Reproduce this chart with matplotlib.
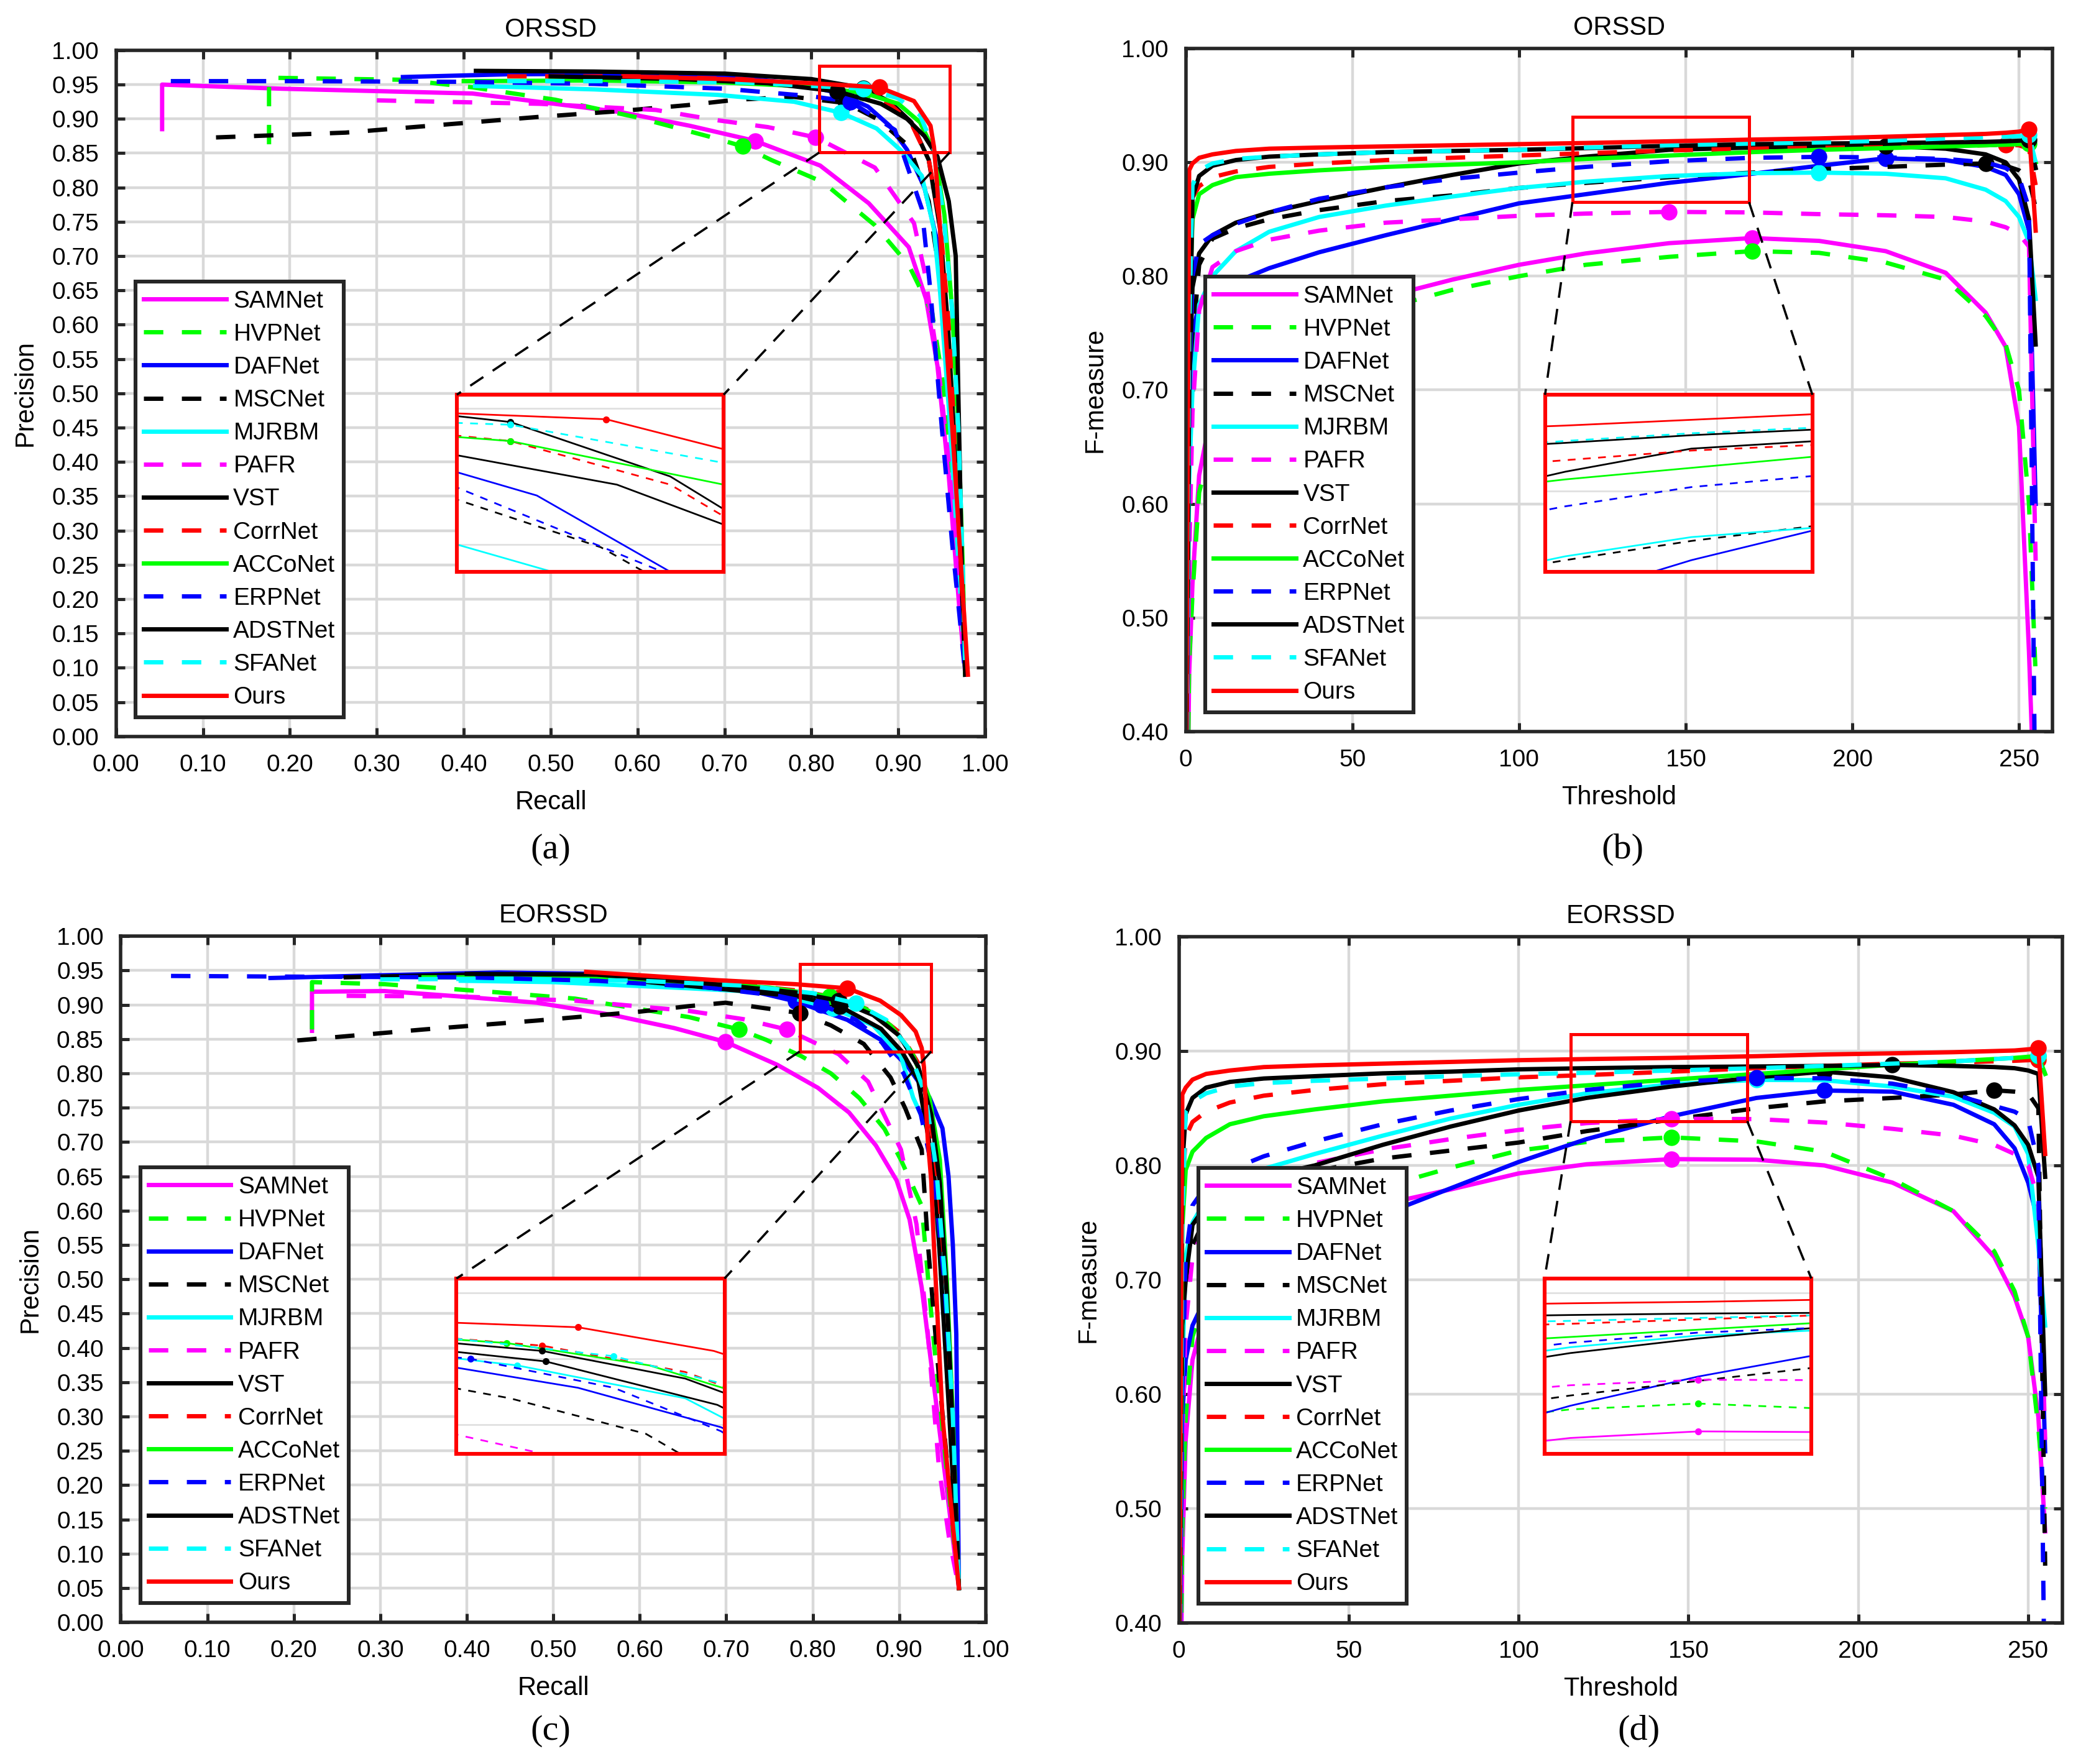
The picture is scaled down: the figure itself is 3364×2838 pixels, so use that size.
import matplotlib

matplotlib.use("Agg")
import matplotlib.pyplot as plt
import numpy as np
from matplotlib.patches import Rectangle

plt.rcParams["font.family"] = ["Liberation Sans", "DejaVu Sans"]

METHODS = ["SAMNet", "HVPNet", "DAFNet", "MSCNet", "MJRBM", "PAFR", "VST",
           "CorrNet", "ACCoNet", "ERPNet", "ADSTNet", "SFANet", "Ours"]
COLORS = {
    "SAMNet": "#ff00ff", "HVPNet": "#00ff00", "DAFNet": "#0000ff", "MSCNet": "#000000",
    "MJRBM": "#00ffff", "PAFR": "#ff00ff", "VST": "#000000", "CorrNet": "#ff0000",
    "ACCoNet": "#00ff00", "ERPNet": "#0000ff", "ADSTNet": "#000000", "SFANet": "#00ffff",
    "Ours": "#ff0000",
}
DASHED = {"HVPNet", "MSCNet", "PAFR", "CorrNet", "ERPNet", "SFANet"}

# ---- ORSSD precision / recall ----
orssd_recall = {
    "SAMNet": [0.053, 0.053, 0.19, 0.41, 0.58, 0.66, 0.735, 0.81, 0.866, 0.912, 0.932, 0.945, 0.958, 0.970, 0.977],
    "HVPNet": [0.176, 0.176, 0.33, 0.41, 0.505, 0.60, 0.683, 0.721, 0.754, 0.813, 0.873, 0.912, 0.939, 0.952, 0.965, 0.972, 0.977],
    "DAFNet": [0.33, 0.45, 0.60, 0.70, 0.78, 0.83, 0.865, 0.89, 0.91, 0.93, 0.945, 0.955, 0.963, 0.970, 0.977],
    "MSCNet": [0.115, 0.264, 0.40, 0.487, 0.576, 0.657, 0.714, 0.78, 0.84, 0.877, 0.913, 0.935, 0.95, 0.962, 0.970, 0.977],
    "MJRBM": [0.413, 0.55, 0.692, 0.78, 0.834, 0.875, 0.903, 0.927, 0.941, 0.948, 0.958, 0.967, 0.977],
    "PAFR": [0.30, 0.487, 0.621, 0.692, 0.75, 0.805, 0.873, 0.918, 0.930, 0.945, 0.958, 0.970, 0.977],
    "VST": [0.414, 0.55, 0.70, 0.80, 0.86, 0.89, 0.915, 0.935, 0.948, 0.957, 0.965, 0.972, 0.977],
    "CorrNet": [0.45, 0.60, 0.72, 0.80, 0.86, 0.89, 0.915, 0.935, 0.948, 0.958, 0.966, 0.972, 0.977],
    "ACCoNet": [0.40, 0.55, 0.70, 0.80, 0.86, 0.90, 0.925, 0.942, 0.953, 0.962, 0.969, 0.974, 0.977],
    "ERPNet": [0.063, 0.20, 0.40, 0.55, 0.70, 0.80, 0.845, 0.896, 0.927, 0.937, 0.950, 0.962, 0.970, 0.977],
    "ADSTNet": [0.50, 0.65, 0.75, 0.83, 0.88, 0.91, 0.93, 0.945, 0.958, 0.966, 0.969, 0.973, 0.977],
    "SFANet": [0.45, 0.60, 0.72, 0.80, 0.86, 0.90, 0.925, 0.94, 0.952, 0.962, 0.969, 0.974, 0.977],
    "Ours": [0.585, 0.70, 0.80, 0.878, 0.918, 0.937, 0.941, 0.944, 0.948, 0.952, 0.962, 0.972, 0.980],
}
orssd_precision = {
    "SAMNet": [0.885, 0.950, 0.944, 0.937, 0.910, 0.890, 0.868, 0.832, 0.777, 0.713, 0.637, 0.540, 0.380, 0.190, 0.090],
    "HVPNet": [0.863, 0.960, 0.957, 0.946, 0.928, 0.902, 0.874, 0.860, 0.840, 0.808, 0.745, 0.687, 0.617, 0.510, 0.350, 0.190, 0.090],
    "DAFNet": [0.961, 0.965, 0.966, 0.962, 0.952, 0.938, 0.918, 0.890, 0.855, 0.800, 0.720, 0.600, 0.450, 0.280, 0.090],
    "MSCNet": [0.873, 0.880, 0.894, 0.903, 0.911, 0.920, 0.928, 0.932, 0.923, 0.899, 0.859, 0.780, 0.650, 0.470, 0.280, 0.090],
    "MJRBM": [0.948, 0.943, 0.935, 0.925, 0.909, 0.886, 0.854, 0.817, 0.739, 0.648, 0.480, 0.300, 0.090],
    "PAFR": [0.927, 0.922, 0.913, 0.898, 0.888, 0.873, 0.829, 0.748, 0.678, 0.550, 0.400, 0.220, 0.090],
    "VST": [0.970, 0.969, 0.966, 0.958, 0.945, 0.925, 0.895, 0.840, 0.740, 0.600, 0.420, 0.250, 0.090],
    "CorrNet": [0.962, 0.962, 0.958, 0.950, 0.938, 0.922, 0.893, 0.840, 0.750, 0.600, 0.420, 0.250, 0.090],
    "ACCoNet": [0.955, 0.956, 0.953, 0.947, 0.938, 0.922, 0.895, 0.850, 0.760, 0.620, 0.450, 0.250, 0.090],
    "ERPNet": [0.955, 0.955, 0.954, 0.951, 0.944, 0.933, 0.925, 0.884, 0.769, 0.648, 0.450, 0.280, 0.180, 0.090],
    "ADSTNet": [0.962, 0.958, 0.952, 0.940, 0.922, 0.900, 0.875, 0.845, 0.780, 0.700, 0.500, 0.250, 0.090],
    "SFANet": [0.955, 0.955, 0.953, 0.948, 0.944, 0.930, 0.905, 0.860, 0.760, 0.620, 0.450, 0.250, 0.090],
    "Ours": [0.962, 0.958, 0.952, 0.946, 0.926, 0.890, 0.859, 0.814, 0.739, 0.632, 0.450, 0.250, 0.090],
}

# ---- EORSSD precision / recall ----
eorssd_recall = {
    "SAMNet": [0.221, 0.221, 0.305, 0.393, 0.481, 0.569, 0.640, 0.699, 0.759, 0.806, 0.842, 0.873, 0.897, 0.912, 0.926, 0.939, 0.952, 0.969],
    "HVPNet": [0.221, 0.221, 0.305, 0.437, 0.525, 0.657, 0.715, 0.746, 0.787, 0.821, 0.854, 0.883, 0.902, 0.926, 0.939, 0.955, 0.969],
    "DAFNet": [0.173, 0.30, 0.437, 0.55, 0.68, 0.78, 0.84, 0.88, 0.91, 0.935, 0.950, 0.957, 0.962, 0.966, 0.969],
    "MSCNet": [0.204, 0.35, 0.481, 0.60, 0.657, 0.699, 0.785, 0.821, 0.859, 0.89, 0.907, 0.926, 0.933, 0.946, 0.958, 0.969],
    "MJRBM": [0.393, 0.50, 0.657, 0.75, 0.823, 0.87, 0.902, 0.916, 0.933, 0.946, 0.957, 0.965, 0.969],
    "PAFR": [0.261, 0.393, 0.525, 0.657, 0.72, 0.770, 0.830, 0.864, 0.902, 0.920, 0.933, 0.946, 0.958, 0.969],
    "VST": [0.26, 0.40, 0.525, 0.687, 0.783, 0.831, 0.879, 0.903, 0.922, 0.934, 0.941, 0.946, 0.958, 0.969],
    "CorrNet": [0.45, 0.60, 0.70, 0.78, 0.83, 0.87, 0.90, 0.922, 0.935, 0.945, 0.955, 0.962, 0.969],
    "ACCoNet": [0.35, 0.50, 0.65, 0.75, 0.82, 0.86, 0.89, 0.915, 0.935, 0.947, 0.955, 0.962, 0.969],
    "ERPNet": [0.058, 0.20, 0.40, 0.55, 0.68, 0.76, 0.81, 0.85, 0.88, 0.905, 0.925, 0.94, 0.952, 0.962, 0.969],
    "ADSTNet": [0.40, 0.55, 0.687, 0.78, 0.83, 0.87, 0.90, 0.922, 0.937, 0.947, 0.955, 0.962, 0.969],
    "SFANet": [0.30, 0.45, 0.60, 0.72, 0.80, 0.85, 0.885, 0.91, 0.93, 0.943, 0.953, 0.962, 0.969],
    "Ours": [0.538, 0.687, 0.78, 0.840, 0.878, 0.902, 0.919, 0.926, 0.9286, 0.933, 0.937, 0.940, 0.950, 0.969],
}
eorssd_precision = {
    "SAMNet": [0.862, 0.919, 0.920, 0.912, 0.903, 0.885, 0.866, 0.846, 0.8125, 0.779, 0.743, 0.695, 0.644, 0.587, 0.488, 0.357, 0.225, 0.050],
    "HVPNet": [0.864, 0.933, 0.930, 0.918, 0.909, 0.882, 0.864, 0.849, 0.825, 0.800, 0.764, 0.719, 0.674, 0.607, 0.422, 0.220, 0.050],
    "DAFNet": [0.939, 0.943, 0.947, 0.945, 0.935, 0.905, 0.878, 0.848, 0.810, 0.765, 0.720, 0.650, 0.550, 0.420, 0.050],
    "MSCNet": [0.848, 0.864, 0.877, 0.890, 0.898, 0.903, 0.888, 0.870, 0.843, 0.794, 0.749, 0.689, 0.554, 0.357, 0.200, 0.050],
    "MJRBM": [0.935, 0.933, 0.924, 0.918, 0.895, 0.870, 0.825, 0.765, 0.718, 0.554, 0.350, 0.180, 0.050],
    "PAFR": [0.913, 0.912, 0.906, 0.891, 0.879, 0.864, 0.828, 0.788, 0.689, 0.580, 0.422, 0.225, 0.120, 0.050],
    "VST": [0.940, 0.944, 0.943, 0.924, 0.912, 0.898, 0.865, 0.832, 0.790, 0.705, 0.644, 0.554, 0.300, 0.050],
    "CorrNet": [0.945, 0.940, 0.932, 0.921, 0.910, 0.890, 0.860, 0.815, 0.745, 0.640, 0.480, 0.280, 0.050],
    "ACCoNet": [0.940, 0.940, 0.933, 0.925, 0.912, 0.895, 0.870, 0.830, 0.764, 0.674, 0.500, 0.300, 0.050],
    "ERPNet": [0.942, 0.941, 0.940, 0.935, 0.925, 0.913, 0.900, 0.878, 0.845, 0.800, 0.740, 0.650, 0.500, 0.300, 0.050],
    "ADSTNet": [0.945, 0.944, 0.930, 0.918, 0.906, 0.885, 0.855, 0.810, 0.740, 0.640, 0.480, 0.280, 0.050],
    "SFANet": [0.937, 0.938, 0.935, 0.928, 0.917, 0.902, 0.878, 0.838, 0.770, 0.660, 0.500, 0.300, 0.050],
    "Ours": [0.948, 0.936, 0.930, 0.924, 0.906, 0.885, 0.861, 0.837, 0.809, 0.704, 0.644, 0.554, 0.300, 0.050],
}

# ---- F-measure against threshold ----
thresholds = [0, 1, 2, 4, 8, 15, 25, 40, 60, 80, 100, 120, 145, 170, 190, 210, 228, 240, 246, 250, 253, 255]
orssd_fmeasure = {
    "SAMNet": [0.20, 0.45, 0.53, 0.625, 0.685, 0.72, 0.745, 0.765, 0.782, 0.797, 0.810, 0.820, 0.829, 0.8335, 0.831, 0.822, 0.803, 0.768, 0.738, 0.668, 0.47, 0.30],
    "HVPNet": [0.20, 0.46, 0.52, 0.61, 0.655, 0.69, 0.725, 0.752, 0.772, 0.788, 0.800, 0.810, 0.817, 0.822, 0.8205, 0.812, 0.797, 0.765, 0.74, 0.70, 0.60, 0.45],
    "DAFNet": [0.30, 0.68, 0.75, 0.775, 0.788, 0.795, 0.807, 0.821, 0.836, 0.850, 0.864, 0.872, 0.882, 0.890, 0.897, 0.9035, 0.902, 0.896, 0.889, 0.872, 0.84, 0.60],
    "MSCNet": [0.30, 0.62, 0.74, 0.81, 0.833, 0.842, 0.85, 0.858, 0.866, 0.871, 0.8775, 0.882, 0.887, 0.891, 0.894, 0.896, 0.898, 0.899, 0.897, 0.893, 0.885, 0.86],
    "MJRBM": [0.30, 0.62, 0.70, 0.775, 0.80, 0.822, 0.839, 0.852, 0.862, 0.870, 0.8775, 0.883, 0.888, 0.8905, 0.891, 0.890, 0.886, 0.876, 0.866, 0.852, 0.83, 0.78],
    "PAFR": [0.30, 0.55, 0.68, 0.77, 0.808, 0.822, 0.832, 0.840, 0.847, 0.850, 0.853, 0.855, 0.8565, 0.856, 0.8545, 0.8535, 0.852, 0.848, 0.843, 0.837, 0.826, 0.55],
    "VST": [0.30, 0.70, 0.79, 0.82, 0.836, 0.847, 0.856, 0.866, 0.878, 0.889, 0.899, 0.905, 0.911, 0.913, 0.914, 0.9145, 0.912, 0.907, 0.90, 0.885, 0.85, 0.74],
    "CorrNet": [0.30, 0.70, 0.869, 0.879, 0.887, 0.892, 0.896, 0.899, 0.902, 0.904, 0.906, 0.908, 0.9105, 0.912, 0.913, 0.914, 0.9145, 0.915, 0.9155, 0.915, 0.912, 0.88],
    "ACCoNet": [0.30, 0.76, 0.85, 0.872, 0.880, 0.887, 0.890, 0.893, 0.896, 0.898, 0.900, 0.903, 0.906, 0.909, 0.911, 0.9125, 0.914, 0.915, 0.9155, 0.916, 0.9165, 0.90],
    "ERPNet": [0.30, 0.68, 0.80, 0.828, 0.836, 0.846, 0.856, 0.868, 0.878, 0.8855, 0.891, 0.896, 0.901, 0.904, 0.9048, 0.9043, 0.903, 0.900, 0.895, 0.887, 0.86, 0.30],
    "ADSTNet": [0.30, 0.70, 0.869, 0.888, 0.897, 0.902, 0.905, 0.907, 0.909, 0.910, 0.911, 0.9125, 0.9145, 0.916, 0.9165, 0.917, 0.9175, 0.918, 0.9185, 0.919, 0.9195, 0.895],
    "SFANet": [0.30, 0.75, 0.88, 0.893, 0.899, 0.903, 0.905, 0.907, 0.909, 0.910, 0.911, 0.913, 0.915, 0.9165, 0.9175, 0.919, 0.921, 0.922, 0.9225, 0.923, 0.924, 0.90],
    "Ours": [0.30, 0.893, 0.899, 0.904, 0.907, 0.910, 0.912, 0.913, 0.914, 0.915, 0.916, 0.917, 0.9185, 0.920, 0.921, 0.9225, 0.924, 0.925, 0.926, 0.927, 0.929, 0.84],
}
eorssd_fmeasure = {
    "SAMNet": [0.20, 0.46, 0.56, 0.63, 0.675, 0.705, 0.728, 0.748, 0.766, 0.779, 0.793, 0.801, 0.8055, 0.805, 0.80, 0.785, 0.76, 0.72, 0.685, 0.65, 0.58, 0.48],
    "HVPNet": [0.20, 0.48, 0.58, 0.65, 0.69, 0.715, 0.735, 0.757, 0.781, 0.798, 0.813, 0.8205, 0.8245, 0.821, 0.812, 0.788, 0.76, 0.725, 0.69, 0.65, 0.57, 0.50],
    "DAFNet": [0.30, 0.58, 0.63, 0.66, 0.685, 0.70, 0.715, 0.733, 0.757, 0.78, 0.803, 0.823, 0.843, 0.859, 0.8655, 0.8645, 0.853, 0.836, 0.815, 0.785, 0.75, 0.55],
    "MSCNet": [0.30, 0.60, 0.68, 0.73, 0.755, 0.77, 0.783, 0.795, 0.806, 0.813, 0.820, 0.830, 0.840, 0.850, 0.856, 0.859, 0.862, 0.8657, 0.8645, 0.863, 0.85, 0.45],
    "MJRBM": [0.30, 0.62, 0.72, 0.75, 0.77, 0.785, 0.797, 0.81, 0.826, 0.841, 0.853, 0.863, 0.871, 0.8748, 0.8745, 0.869, 0.86, 0.846, 0.834, 0.81, 0.73, 0.66],
    "PAFR": [0.30, 0.56, 0.66, 0.72, 0.75, 0.77, 0.785, 0.802, 0.814, 0.823, 0.831, 0.837, 0.8408, 0.8405, 0.8375, 0.832, 0.826, 0.818, 0.81, 0.80, 0.77, 0.56],
    "VST": [0.30, 0.66, 0.70, 0.748, 0.765, 0.777, 0.79, 0.80, 0.818, 0.834, 0.848, 0.859, 0.869, 0.877, 0.882, 0.877, 0.864, 0.849, 0.835, 0.818, 0.79, 0.60],
    "CorrNet": [0.30, 0.78, 0.825, 0.838, 0.847, 0.855, 0.861, 0.866, 0.871, 0.874, 0.877, 0.879, 0.882, 0.885, 0.887, 0.889, 0.890, 0.891, 0.8915, 0.892, 0.8925, 0.88],
    "ACCoNet": [0.30, 0.746, 0.796, 0.812, 0.824, 0.836, 0.843, 0.849, 0.856, 0.861, 0.866, 0.870, 0.875, 0.880, 0.884, 0.888, 0.891, 0.893, 0.894, 0.895, 0.8955, 0.88],
    "ERPNet": [0.30, 0.60, 0.72, 0.765, 0.782, 0.796, 0.808, 0.821, 0.836, 0.848, 0.858, 0.866, 0.873, 0.8765, 0.8762, 0.8715, 0.862, 0.852, 0.847, 0.84, 0.80, 0.30],
    "ADSTNet": [0.30, 0.80, 0.845, 0.859, 0.868, 0.873, 0.876, 0.878, 0.8805, 0.882, 0.884, 0.885, 0.886, 0.8865, 0.887, 0.8878, 0.887, 0.886, 0.885, 0.883, 0.88, 0.79],
    "SFANet": [0.30, 0.75, 0.848, 0.856, 0.863, 0.869, 0.872, 0.874, 0.876, 0.878, 0.8797, 0.881, 0.883, 0.885, 0.887, 0.889, 0.891, 0.893, 0.894, 0.895, 0.896, 0.87],
    "Ours": [0.30, 0.862, 0.868, 0.875, 0.880, 0.883, 0.886, 0.8875, 0.889, 0.8905, 0.892, 0.893, 0.894, 0.8955, 0.897, 0.898, 0.899, 0.900, 0.9005, 0.9015, 0.9025, 0.81],
}

PR_TICKS_X = np.round(np.arange(0, 1.001, 0.1), 2)
PR_TICKS_Y = np.round(np.arange(0, 1.001, 0.05), 2)
F_TICKS_X = [0, 50, 100, 150, 200, 250]
F_TICKS_Y = np.round(np.arange(0.4, 1.001, 0.1), 2)
DASH = (4.5, 4.3)


def f_beta(r, p):
    return 1.3 * p * r / (0.3 * p + r)


def f_peak(t, f):
    return f


def _plot_curves(ax, xs, ys, score, lw, ms):
    handles = []
    for name in METHODS:
        x = np.asarray(xs[name], dtype=float)
        y = np.asarray(ys[name], dtype=float)
        ls = (0, DASH) if name in DASHED else "-"
        (line,) = ax.plot(x, y, color=COLORS[name], lw=lw, ls=ls, label=name, solid_joinstyle="round")
        k = int(np.argmax(score(x, y)))
        ax.plot(x[k], y[k], "o", color=COLORS[name], ms=ms, mec=COLORS[name])
        handles.append(line)
    return handles


def _style(ax, xlim, ylim, xticks, yticks, xfmt, yfmt):
    ax.set_xlim(xlim)
    ax.set_ylim(ylim)
    ax.set_xticks(xticks)
    ax.set_yticks(yticks)
    ax.set_xticklabels([xfmt.format(v) for v in xticks])
    ax.set_yticklabels([yfmt.format(v) for v in yticks])
    ax.grid(True, color="#d9d9d9", lw=1.6)
    ax.set_axisbelow(True)
    ax.tick_params(direction="in", length=5, width=1.8, top=True, right=True,
                   labelsize=14, pad=10, colors="#262626", labelcolor="black")
    for spine in ax.spines.values():
        spine.set_linewidth(2.0)
        spine.set_color("#262626")


def _add_zoom(ax, xs, ys, score, rect, box, window, xticks, yticks):
    x0, y0, x1, y1 = rect
    ax.add_patch(Rectangle((x0, y0), x1 - x0, y1 - y0, fill=False, ec="red", lw=1.8, zorder=6))
    ins = ax.inset_axes(box)
    _plot_curves(ins, xs, ys, score, lw=1.0, ms=3.0)
    ins.set_xticks(xticks)
    ins.set_yticks(yticks)
    ins.set_xlim(window[0])
    ins.set_ylim(window[1])
    ins.grid(True, color="#e0e0e0", lw=1.0)
    ins.set_axisbelow(True)
    ins.tick_params(length=0, labelbottom=False, labelleft=False)
    for spine in ins.spines.values():
        spine.set_color("red")
        spine.set_linewidth(2.2)
    (xl, xr), (yb, yt) = ax.get_xlim(), ax.get_ylim()
    bx0 = xl + box[0] * (xr - xl)
    bx1 = xl + (box[0] + box[2]) * (xr - xl)
    by1 = yb + (box[1] + box[3]) * (yt - yb)
    for cx, bx in ((x0, bx0), (x1, bx1)):
        ax.plot([cx, bx], [y0, by1], color="black", lw=1.3, ls=(0, (7, 5)), zorder=6)


def _legend(ax, handles):
    leg = ax.legend(handles=handles, loc="lower left", fontsize=14, handlelength=3.4,
                    handletextpad=0.3, labelspacing=0.44, borderaxespad=0.8,
                    fancybox=False, framealpha=1, edgecolor="#262626", borderpad=0.35)
    leg.get_frame().set_linewidth(2.2)


fig = plt.figure(figsize=(16.82, 14.19), dpi=200)

panels = [
    dict(pos=[0.0555, 0.5825, 0.4157, 0.389], kind="pr", title="ORSSD", xs=orssd_recall, ys=orssd_precision,
         rect=(0.809, 0.851, 0.959, 0.977), box=[0.392, 0.24, 0.307, 0.258],
         window=((0.85, 0.90), (0.89, 0.955)), label="(a)", lab_xy=(0.2634, 0.5183)),
    dict(pos=[0.5671, 0.5853, 0.4144, 0.3872], kind="f", title="ORSSD", xs=None, ys=orssd_fmeasure,
         rect=(116, 0.865, 169, 0.94), box=[0.4146, 0.234, 0.3085, 0.259],
         window=((116, 169), (0.879, 0.925)), label="(b)", lab_xy=(0.776, 0.5183)),
    dict(pos=[0.0578, 0.0803, 0.4136, 0.389], kind="pr", title="EORSSD", xs=eorssd_recall, ys=eorssd_precision,
         rect=(0.785, 0.832, 0.937, 0.959), box=[0.388, 0.246, 0.31, 0.255],
         window=((0.806, 0.881), (0.828, 0.961)), label="(c)", lab_xy=(0.2634, 0.0187)),
    dict(pos=[0.5638, 0.0800, 0.4224, 0.389], kind="f", title="EORSSD", xs=None, ys=eorssd_fmeasure,
         rect=(115.3, 0.8387, 167.3, 0.9146), box=[0.414, 0.246, 0.302, 0.256],
         window=((115, 167), (0.79, 0.91)), label="(d)", lab_xy=(0.7838, 0.0187)),
]

for spec in panels:
    ax = fig.add_axes(spec["pos"])
    if spec["kind"] == "pr":
        xs, ys, score = spec["xs"], spec["ys"], f_beta
        _style(ax, (0, 1), (0, 1), PR_TICKS_X, PR_TICKS_Y, "{:.2f}", "{:.2f}")
        xticks, yticks = PR_TICKS_X, PR_TICKS_Y
        ax.set_xlabel("Recall", fontsize=15, labelpad=8)
        ax.set_ylabel("Precision", fontsize=15, labelpad=8)
    else:
        xs = {name: thresholds for name in METHODS}
        ys, score = spec["ys"], f_peak
        _style(ax, (0, 260), (0.4, 1.0), F_TICKS_X, F_TICKS_Y, "{:d}", "{:.2f}")
        xticks, yticks = F_TICKS_X, F_TICKS_Y
        ax.set_xlabel("Threshold", fontsize=15, labelpad=8)
        ax.set_ylabel("F-measure", fontsize=15, labelpad=8)
    handles = _plot_curves(ax, xs, ys, score, lw=2.5, ms=8.5)
    ax.set_title(spec["title"], fontsize=15, pad=8)
    _legend(ax, handles)
    _add_zoom(ax, xs, ys, score, spec["rect"], spec["box"], spec["window"], xticks, yticks)
    fig.text(spec["lab_xy"][0], spec["lab_xy"][1], spec["label"], family="Liberation Serif",
             fontsize=21, ha="center", va="center")

fig.savefig("out.png", dpi=200)
